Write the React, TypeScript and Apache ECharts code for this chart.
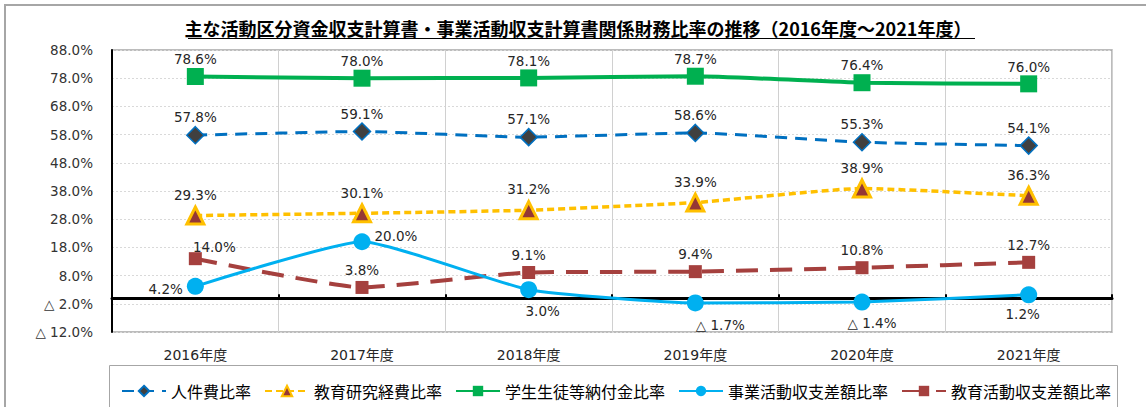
import React, { useEffect, useRef } from "react";
import * as echarts from "echarts";

const title = "主な活動区分資金収支計算書・事業活動収支計算書関係財務比率の推移（2016年度～2021年度）";
const categories = ["2016年度", "2017年度", "2018年度", "2019年度", "2020年度", "2021年度"];
const seriesNames = ["人件費比率", "教育研究経費比率", "学生生徒等納付金比率", "事業活動収支差額比率", "教育活動収支差額比率"];
const personnel = [57.8, 59.1, 57.1, 58.6, 55.3, 54.1];
const eduResearch = [29.3, 30.1, 31.2, 33.9, 38.9, 36.3];
const tuition = [78.6, 78.0, 78.1, 78.7, 76.4, 76.0];
const businessBalance = [4.2, 20.0, 3.0, -1.7, -1.4, 1.2];
const eduBalance = [14.0, 3.8, 9.1, 9.4, 10.8, 12.7];
const yMin = -12;
const yMax = 88;
const yStep = 10;

const FONT = "'DejaVu Sans', 'Noto Sans CJK JP', sans-serif";
const CJK = "'Noto Sans CJK JP', 'DejaVu Sans', sans-serif";

const fmt = (v: number) => (v < 0 ? "△ " + Math.abs(v).toFixed(1) + "%" : v.toFixed(1) + "%");

// label placements for the cyan series
const bbLabel: any[] = [
  { position: "left", offset: [0, 3] },
  { position: "right", offset: [0, -6] },
  { position: "bottom", offset: [14, 2] },
  { position: "bottom", offset: [25, 3] },
  { position: "bottom", offset: [10, 2] },
  { position: "bottom", offset: [-6, 0] },
];
const ebLabel: any[] = [{ offset: [19, 6] }, {}, {}, {}, {}, {}];

export default function App() {
  const ref = useRef<HTMLDivElement>(null);
  useEffect(() => {
    document.body.style.margin = "0";
    document.body.style.overflow = "hidden";
    const chart = echarts.init(ref.current!, null, { renderer: "svg" });
    const labelBase = {
      show: true,
      position: "top",
      distance: 4,
      color: "#262626",
      fontSize: 13.5,
      fontFamily: FONT,
      formatter: (p: any) => fmt(p.value),
    };
    chart.setOption({
      animation: false,
      backgroundColor: "#fff",
      textStyle: { fontFamily: FONT },
      graphic: [
        {
          type: "rect",
          shape: { x: 5, y: 5, width: 1300, height: 600 },
          style: { fill: "none", stroke: "#a6a6a6", lineWidth: 2 },
          z: -1,
        },
        {
          type: "text",
          x: 578,
          y: 28,
          style: {
            text: title,
            fontFamily: CJK,
            fontSize: 18,
            fontWeight: "bold",
            fill: "#000",
            textAlign: "center",
            textVerticalAlign: "middle",
          },
        },
        {
          type: "line",
          shape: { x1: 188, y1: 38.5, x2: 975, y2: 38.5 },
          style: { stroke: "#000", lineWidth: 1.2 },
        },
        {
          type: "rect",
          shape: { x: 109.5, y: 365.5, width: 1008, height: 80 },
          style: { fill: "none", stroke: "#a6a6a6", lineWidth: 1 },
        },
      ],
      legend: {
        left: 116,
        top: 378,
        itemWidth: 44,
        itemHeight: 13,
        itemGap: 13,
        textStyle: { fontFamily: CJK, fontSize: 16, color: "#000" },
        data: seriesNames,
      },
      grid: {
        left: 112,
        right: 34,
        top: 50,
        bottom: 75,
        show: true,
        borderColor: "#a6a6a6",
        borderWidth: 1.5,
      },
      xAxis: [
        {
          type: "category",
          data: categories,
          position: "bottom",
          boundaryGap: true,
          axisLine: { show: false, onZero: false },
          axisTick: { show: false },
          axisLabel: { fontSize: 14, color: "#262626", margin: 16, fontFamily: FONT },
          splitLine: { show: true, lineStyle: { color: "#d0d0d0", width: 1 } },
        },
        {
          type: "category",
          data: categories,
          position: "bottom",
          boundaryGap: true,
          axisLine: { show: true, onZero: true, lineStyle: { color: "#000", width: 3 } },
          axisTick: { show: true, inside: true, length: 4, lineStyle: { color: "#000", width: 2 } },
          axisLabel: { show: false },
          splitLine: { show: false },
        },
      ],
      yAxis: {
        type: "value",
        min: yMin,
        max: yMax,
        interval: yStep,
        axisLine: { show: true, lineStyle: { color: "#000", width: 2 } },
        axisTick: { show: false },
        axisLabel: {
          fontSize: 13.5,
          color: "#333",
          margin: 19,
          fontFamily: FONT,
          formatter: (v: number) => fmt(v),
        },
        splitLine: { show: true, lineStyle: { color: "#d9d9d9", width: 1, type: [2, 2] } },
      },
      series: [
        {
          name: seriesNames[0],
          type: "line",
          data: personnel,
          smooth: 0.15,
          symbol: "diamond",
          symbolSize: 17,
          itemStyle: { color: "#404040", borderColor: "#0070C0", borderWidth: 1.5 },
          lineStyle: { color: "#0070C0", width: 3, type: [12, 8] },
          label: { ...labelBase, distance: 2 },
          z: 3,
        },
        {
          name: seriesNames[1],
          type: "line",
          data: eduResearch,
          smooth: 0.15,
          symbol: "triangle",
          symbolSize: 17,
          itemStyle: { color: "#953735", borderColor: "#FFC000", borderWidth: 3 },
          lineStyle: { color: "#FFC000", width: 3.5, type: [7, 4] },
          label: { ...labelBase },
          z: 3,
        },
        {
          name: seriesNames[2],
          type: "line",
          data: tuition,
          smooth: 0.15,
          symbol: "rect",
          symbolSize: 17,
          itemStyle: { color: "#00B050" },
          lineStyle: { color: "#00B050", width: 4 },
          label: { ...labelBase, distance: 2 },
          z: 3,
        },
        {
          name: seriesNames[3],
          type: "line",
          data: businessBalance.map((v, i) => ({ value: v, label: bbLabel[i] })),
          smooth: 0.15,
          symbol: "circle",
          symbolSize: 17,
          itemStyle: { color: "#00B0F0" },
          lineStyle: { color: "#00B0F0", width: 3 },
          label: { ...labelBase },
          z: 4,
        },
        {
          name: seriesNames[4],
          type: "line",
          data: eduBalance.map((v, i) => ({ value: v, label: ebLabel[i] })),
          smooth: 0.15,
          symbol: "rect",
          symbolSize: 13,
          itemStyle: { color: "#A5403E" },
          lineStyle: { color: "#A5403E", width: 4, type: [22, 12] },
          label: { ...labelBase },
          z: 3,
        },
      ],
    });
    return () => chart.dispose();
  }, []);
  return <div ref={ref} style={{ width: 1146, height: 407 }} />;
}
